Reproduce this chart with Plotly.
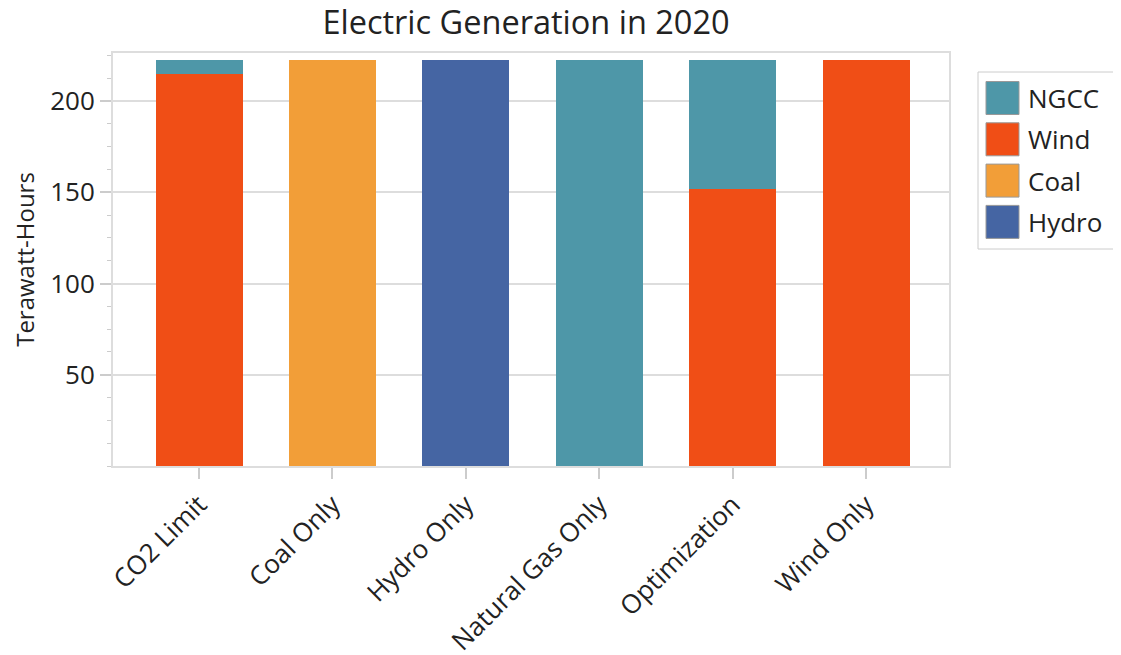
import plotly.graph_objects as go

# scenario names on the x axis
categories = ["CO2 Limit", "Coal Only", "Hydro Only", "Natural Gas Only",
              "Optimization", "Wind Only"]

# terawatt-hours per source
wind = [215.0, 0, 0, 0, 151.9, 222.2]
ngcc = [7.2, 0, 0, 222.2, 70.3, 0]
coal = [0, 222.2, 0, 0, 0, 0]
hydro = [0, 0, 222.2, 0, 0, 0]

y_ticks = [50, 100, 150, 200]

legend_names = ["NGCC", "Wind", "Coal", "Hydro"]
colors = {"NGCC": "#4e97a8", "Wind": "#f04e16", "Coal": "#f29e38", "Hydro": "#4565a3"}

FONT = "Open Sans, Noto Sans, sans-serif"
PAGE_PAD = 8  # default body margin of the html page

fig = go.Figure()

# stacking order: wind at the bottom, NGCC above it
for name, vals in [("Wind", wind), ("NGCC", ngcc), ("Coal", coal), ("Hydro", hydro)]:
    fig.add_trace(go.Bar(
        x=categories, y=vals, name=name,
        marker=dict(color=colors[name], line=dict(width=0)),
        showlegend=False,
    ))

fig.update_layout(
    barmode="stack",
    bargap=0.348,
    width=1121 - PAGE_PAD, height=655 - PAGE_PAD,
    margin=dict(l=113 - PAGE_PAD, r=172, t=53 - PAGE_PAD, b=189),
    plot_bgcolor="white",
    paper_bgcolor="white",
    font=dict(family=FONT, color="#222", size=26),
    title=dict(text="Electric Generation in 2020",
               x=(526 - PAGE_PAD) / (1121 - PAGE_PAD), xanchor="center",
               y=1, yanchor="top", pad=dict(t=3),
               font=dict(size=32.5, color="#222")),
)

fig.update_xaxes(
    range=[-0.645, 5.622],
    automargin=False,
    showline=True, linecolor="#dddddd", linewidth=2, mirror=True,
    ticks="outside", ticklen=11, tickwidth=2, tickcolor="#cccccc",
    tickangle=-45, tickfont=dict(size=26),
    showgrid=False,
)

fig.update_yaxes(
    range=[0, 226.3],
    automargin=False,
    tickvals=y_ticks,
    showline=True, linecolor="#dddddd", linewidth=2, mirror=True,
    ticks="outside", ticklen=11, tickwidth=2, tickcolor="#cccccc",
    showgrid=True, gridcolor="#dddddd", gridwidth=2,
    zeroline=False,
    minor=dict(tick0=0, dtick=12.5, ticks="outside", ticklen=4,
               tickcolor="#cccccc", tickwidth=1, showgrid=False),
    tickfont=dict(size=26),
    title=dict(text="Terawatt-Hours", font=dict(size=24), standoff=19),
)


# hand-drawn legend with large swatches (pixel layout converted to paper coords)
def px_x(px):
    return (px - 113) / 836


def px_y(py):
    return (466 - py) / 413


fig.add_shape(type="rect", xref="paper", yref="paper",
              x0=px_x(978), x1=px_x(1117), y0=px_y(249), y1=px_y(72),
              line=dict(color="#cccccc", width=1), fillcolor="white")

for i, name in enumerate(legend_names):
    cy = 98 + i * 41.3
    fig.add_shape(type="rect", xref="paper", yref="paper",
                  x0=px_x(986), x1=px_x(1019), y0=px_y(cy + 16.5), y1=px_y(cy - 16.5),
                  line=dict(color="#999999", width=1), fillcolor=colors[name])
    fig.add_annotation(xref="paper", yref="paper", x=px_x(1026), y=px_y(cy),
                       text=name, showarrow=False, xanchor="left", yanchor="middle",
                       font=dict(size=26, color="#222"))

fig.write_html("out.html")
